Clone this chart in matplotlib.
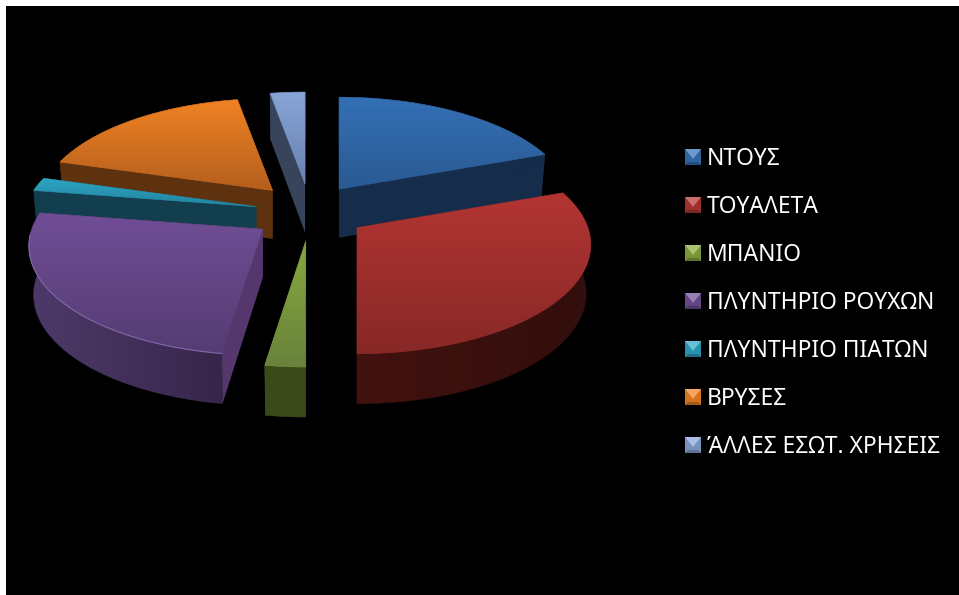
import numpy as np
import matplotlib
matplotlib.use("Agg")
import matplotlib.pyplot as plt
from matplotlib.patches import Polygon

labels = ["ΝΤΟΥΣ", "ΤΟΥΑΛΕΤΑ", "ΜΠΑΝΙΟ", "ΠΛΥΝΤΗΡΙΟ ΡΟΥΧΩΝ",
          "ΠΛΥΝΤΗΡΙΟ ΠΙΑΤΩΝ", "ΒΡΥΣΕΣ", "ΆΛΛΕΣ ΕΣΩΤ. ΧΡΗΣΕΙΣ"]
values = [19.4, 30.6, 2.4, 25.1, 2.0, 17.7, 2.8]

# top face gradient (upper, lower), then outer wall (left, right)
top_hi = ["#3470b6", "#b33533", "#87aa3c", "#704e96", "#2da5c3", "#f08223", "#87a5d7"]
top_lo = ["#2a5a92", "#872826", "#69823c", "#553c73", "#2382a0", "#b45f1e", "#6982af"]
wall_l = ["#162c4b", "#42120f", "#3c4a19", "#4e3a69", "#123e4e", "#5f320f", "#37445c"]
wall_r = ["#162c4b", "#320e0c", "#3c4a19", "#37264b", "#123e4e", "#5f320f", "#37445c"]
side_c = ["#162c4b", "#320e0c", "#5a7028", "#55376e", "#123e4e", "#5f320f", "#37445c"]

# back slices first so nearer ones cover them
draw_order = [6, 5, 0, 4, 2, 3, 1]

# pie layout, in pixels
CX, CY = 309, 212
EXPLODE_X, EXPLODE_Y = 56, 29
NUDGE_X = [-2, 2, 1, -1, 2, 1, 1]
NUDGE_Y = [1, -1, 0, 0, 1, 0, 1]
RX, RY = 231, 106.4
PERSP = 0.156
BOTTOM_SHRINK = 0.98

fig = plt.figure(figsize=(9.59, 5.95), dpi=100, facecolor="white")
ax = fig.add_axes([6 / 959, 0, 953 / 959, 589 / 595], facecolor="black")


def project(u, v):
    w = 1 + PERSP * v
    return RX * u / w, -RY * v / w


def depth(v):
    return 48.5 - 1.5 * v


def rgb(c):
    return np.array(matplotlib.colors.to_rgb(c))


def gradient_fill(xs, ys, c0, c1, z, horizontal=False):
    poly = Polygon(np.column_stack([xs, ys]), closed=True, transform=ax.transData,
                   facecolor="none", edgecolor="none")
    ax.add_patch(poly)
    t = np.linspace(0, 1, 128)[:, None]
    img = (1 - t) * rgb(c0) + t * rgb(c1)
    img = img[None, :, :] if horizontal else img[:, None, :]
    im = ax.imshow(img, extent=(min(xs), max(xs), max(ys), min(ys)), aspect="auto",
                   interpolation="bilinear", zorder=z)
    im.set_clip_path(poly)
    # thin outline in the fill colour to soften the clipped edge
    ax.fill(xs, ys, facecolor="none", edgecolor=(0.5 * (rgb(c0) + rgb(c1))),
            linewidth=0.4, zorder=z)


edges = np.cumsum([0] + values) / sum(values) * 360

for i in draw_order:
    a0, a1 = edges[i], edges[i + 1]
    mid = np.radians((a0 + a1) / 2)
    tx = CX + EXPLODE_X * np.sin(mid) + NUDGE_X[i]
    ty = CY - EXPLODE_Y * np.cos(mid) + NUDGE_Y[i]

    th = np.radians(np.linspace(a0, a1, int(a1 - a0) * 2 + 2))
    u, v = np.sin(th), np.cos(th)
    px, py = project(u, v)
    top_x, top_y = tx + px, ty + py
    low_x, low_y = tx + px * BOTTOM_SHRINK, top_y + depth(v)
    z = 2 + draw_order.index(i) * 4

    # radial walls
    for end in (0, -1):
        xs = [tx, top_x[end], low_x[end], tx]
        ys = [ty, top_y[end], low_y[end], ty + depth(0)]
        ax.fill(xs, ys, color=side_c[i], linewidth=0, zorder=z)

    # outer wall
    xs = np.r_[top_x, low_x[::-1]]
    ys = np.r_[top_y, low_y[::-1]]
    gradient_fill(xs, ys, wall_l[i], wall_r[i], z + 1, horizontal=True)

    # top face
    xs = np.r_[tx, top_x]
    ys = np.r_[ty, top_y]
    gradient_fill(xs, ys, top_hi[i], top_lo[i], z + 2)

    # purple slice has a pale rim along its front
    if labels[i] == "ΠΛΥΝΤΗΡΙΟ ΡΟΥΧΩΝ":
        front = v < -0.05
        ax.plot(top_x[front], top_y[front], color="#8467aa", linewidth=0.8, zorder=z + 3)

# legend
for i, name in enumerate(labels):
    y = 157 + 48 * i
    x0, x1, y0, y1 = 685, 701, y - 8, y + 8
    xm, ym = (x0 + x1) / 2, y + 2
    hi = 0.72 * rgb(top_hi[i]) + 0.28
    body = 0.88 * rgb(top_hi[i])
    lo = 0.68 * rgb(top_hi[i])
    ax.fill([x0, x1, x1, x0], [y0, y0, y1, y1], color=body, linewidth=0, zorder=50)
    ax.fill([x0, x1, xm], [y0, y0, ym], color=hi, linewidth=0, zorder=51)
    ax.fill([x0, x1, x1 - 3, x0 + 3], [y1, y1, y1 - 3, y1 - 3], color=lo, linewidth=0, zorder=51)
    ax.text(707, y - 1, name, color="white", family="Noto Sans", fontsize=16.45,
            va="center_baseline", ha="left", zorder=52)

ax.set_xlim(6, 959)
ax.set_ylim(595, 6)
ax.set_xticks([])
ax.set_yticks([])
for s in ax.spines.values():
    s.set_visible(False)

fig.savefig("out.png", dpi=100, facecolor="white")
